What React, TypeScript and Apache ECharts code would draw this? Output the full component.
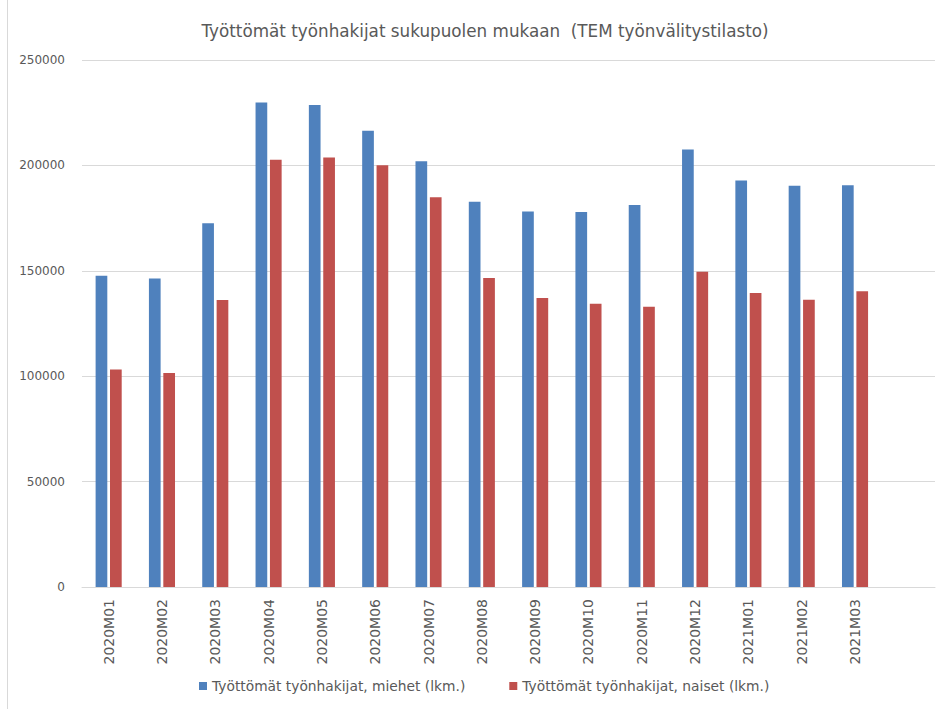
import React, { useEffect, useRef } from "react";
import * as echarts from "echarts";

const titleText = "Työttömät työnhakijat sukupuolen mukaan  (TEM työnvälitystilasto)";
const categories = [
  "2020M01", "2020M02", "2020M03", "2020M04", "2020M05", "2020M06", "2020M07", "2020M08",
  "2020M09", "2020M10", "2020M11", "2020M12", "2021M01", "2021M02", "2021M03", "",
];
const seriesMenName = "Työttömät työnhakijat, miehet (lkm.)";
const seriesWomenName = "Työttömät työnhakijat, naiset (lkm.)";
const menValues = [
  147700, 146300, 172500, 229800, 228600, 216400, 202000, 182800,
  178100, 177900, 181200, 207500, 192800, 190400, 190600,
];
const womenValues = [
  103200, 101500, 136100, 202700, 203700, 200100, 184900, 146600,
  137100, 134400, 133000, 149600, 139500, 136300, 140300,
];
const yTicks = { min: 0, max: 250000, interval: 50000 };

const FONT = "'DejaVu Sans', sans-serif";
const TEXT = "#595959";

export default function App() {
  const ref = useRef<HTMLDivElement>(null);
  useEffect(() => {
    document.body.style.margin = "0";
    const chart = echarts.init(ref.current!, null, { renderer: "svg" });
    chart.setOption({
      animation: false,
      backgroundColor: "#ffffff",
      textStyle: { fontFamily: FONT },
      title: {
        text: titleText,
        left: 480,
        textAlign: "center",
        top: 17,
        textStyle: { fontSize: 16.8, fontWeight: "normal", color: TEXT, fontFamily: FONT },
      },
      graphic: [
        {
          type: "line",
          shape: { x1: 7.5, y1: 0, x2: 7.5, y2: 709 },
          style: { stroke: "#D9D9D9", lineWidth: 1 },
          silent: true,
        },
      ],
      legend: {
        bottom: 11,
        left: 194,
        itemWidth: 8,
        itemHeight: 8,
        itemGap: 44,
        icon: "rect",
        textStyle: { fontSize: 13.8, color: TEXT, fontFamily: FONT },
        data: [seriesMenName, seriesWomenName],
      },
      grid: { left: 82, right: 2, top: 60, bottom: 122, containLabel: false },
      xAxis: {
        type: "category",
        data: categories,
        axisLine: { lineStyle: { color: "#D9D9D9" } },
        axisTick: { show: false },
        axisLabel: {
          rotate: 90,
          interval: 0,
          margin: 12,
          fontSize: 14,
          color: TEXT,
          fontFamily: FONT,
        },
      },
      yAxis: {
        type: "value",
        min: yTicks.min,
        max: yTicks.max,
        interval: yTicks.interval,
        axisLine: { show: false },
        axisTick: { show: false },
        axisLabel: {
          margin: 17,
          fontSize: 12,
          color: TEXT,
          fontFamily: FONT,
          formatter: (v: number) => String(v),
        },
        splitLine: { lineStyle: { color: "#D9D9D9", width: 1 } },
      },
      series: [
        {
          name: seriesMenName,
          type: "bar",
          data: menValues,
          barWidth: 11.7,
          barGap: "23%",
          itemStyle: { color: "#4F81BD" },
        },
        {
          name: seriesWomenName,
          type: "bar",
          data: womenValues,
          barWidth: 11.7,
          barGap: "23%",
          itemStyle: { color: "#C0504D" },
        },
      ],
    });
    return () => chart.dispose();
  }, []);
  return <div ref={ref} style={{ width: 937, height: 709 }} />;
}
